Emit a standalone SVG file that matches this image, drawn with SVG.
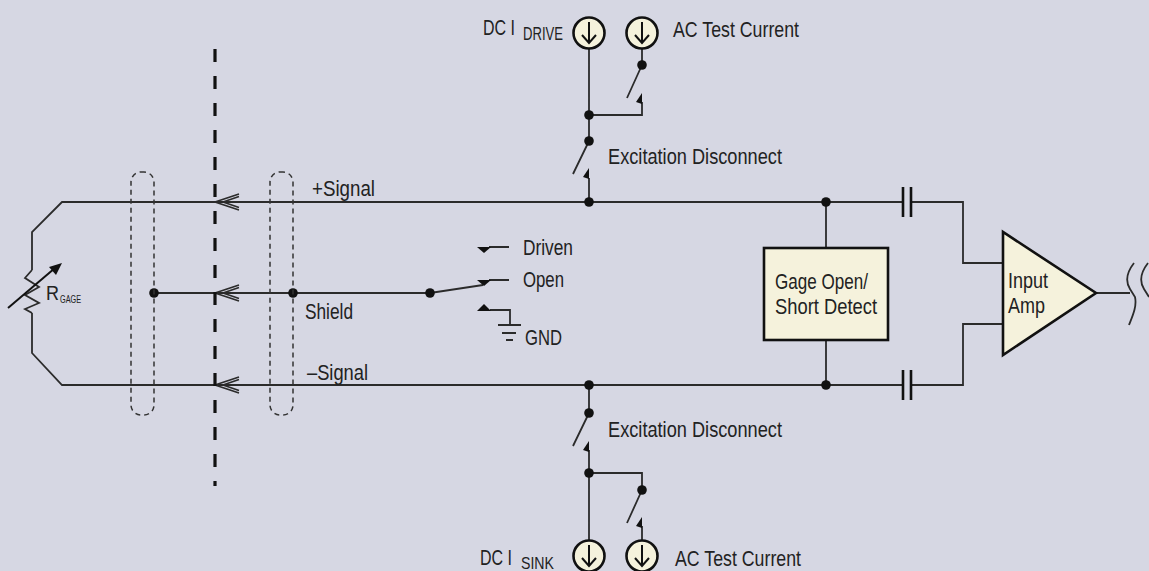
<svg xmlns="http://www.w3.org/2000/svg" width="1149" height="571" viewBox="0 0 1149 571">
<defs>
<style>
.w{fill:none;stroke:#2b2b2b;stroke-width:1.8}
.dot{fill:#111}
.tri{fill:#111}
.box{fill:#f5f2dc;stroke:#111;stroke-width:2.6}
.src{fill:#f5f2dc;stroke:#111;stroke-width:2.6}
.shield{fill:none;stroke:#333;stroke-width:1.5;stroke-dasharray:5 4}
.cut{fill:none;stroke:#111;stroke-width:3.2;stroke-dasharray:13 14}
.cap{fill:none;stroke:#111;stroke-width:2.6}
.t{font-family:"Liberation Sans Narrow","Liberation Sans",Arial,sans-serif;font-size:22px;fill:#222}
</style>
<g id="src-sym">
<circle cx="0" cy="0" r="15.5" class="src"/>
<path d="M0,-11 V9 M-7,2 L0,10 L7,2" fill="none" stroke="#111" stroke-width="2"/>
</g>
<path id="chev" d="M24,-8 L0,0 L24,8 M24,-5.5 L8,0 L24,5.5" fill="none" stroke="#2b2b2b" stroke-width="1.6"/>
</defs>
<rect width="1149" height="571" fill="#d6d7e3"/>

<g id="connectors">
<path class="w" d="M903,202 H62 L32,232 V270 M32,313 V353 L62,385 H903"/>
<path class="w" d="M154,293 H430 L483,285"/>
<path class="w" d="M589,49 V141 M573,174 L589,141 M589,178 V202 M589,115 H642 V102 M627,98 L642,65 M642,65 V49"/>
<path class="w" d="M589,385 V413 M573,446 L589,413 M589,450 V540 M589,473 H642 V490 M627,523 L642,490 M642,526 V540"/>
<path class="w" d="M826,202 V248 M826,340 V385"/>
<path class="w" d="M911,202 H963 V263 H1003 M911,385 H963 V324 H1003"/>
<path class="w" d="M1096,293 H1130"/>
<path class="w" d="M1134,263 C1127,272 1125,281 1130,289 L1135,297 C1137,306 1133,315 1129,325 M1148,263 C1141,272 1139,281 1144,289 L1149,297"/>
<path class="w" d="M489,247 H509 M489,280 H509 M490,310 H510 V325 M498,325 H521 M502,333 H516 M506,340 H513"/>
<polygon class="tri" points="477,247 491,247 484,253"/>
<polygon class="tri" points="477,280 491,280 484,286"/>
<polygon class="tri" points="477,311 491,311 484,304"/>
<polygon class="tri" points="589,168 589,179 583,177"/>
<polygon class="tri" points="642,93 642,104 636,102"/>
<polygon class="tri" points="589,441 589,452 583,450"/>
<polygon class="tri" points="642,517 642,528 636,526"/>
<use href="#chev" x="215" y="202"/>
<use href="#chev" x="215" y="293"/>
<use href="#chev" x="215" y="385"/>
</g>

<g id="dots">
<circle class="dot" cx="154" cy="293" r="4.8"/>
<circle class="dot" cx="293" cy="293" r="4.8"/>
<circle class="dot" cx="430" cy="293" r="4.8"/>
<circle class="dot" cx="589" cy="115" r="4.8"/>
<circle class="dot" cx="589" cy="141" r="4.8"/>
<circle class="dot" cx="589" cy="202" r="4.8"/>
<circle class="dot" cx="642" cy="65" r="4.8"/>
<circle class="dot" cx="589" cy="385" r="4.8"/>
<circle class="dot" cx="589" cy="413" r="4.8"/>
<circle class="dot" cx="589" cy="473" r="4.8"/>
<circle class="dot" cx="642" cy="490" r="4.8"/>
<circle class="dot" cx="826" cy="202" r="4.8"/>
<circle class="dot" cx="826" cy="385" r="4.8"/>
</g>

<g id="cable-cut">
<line class="cut" x1="215" y1="49" x2="215" y2="486"/>
</g>

<g id="shield-left">
<rect class="shield" x="131" y="172" width="23" height="243" rx="10" ry="10"/>
</g>
<g id="shield-right">
<rect class="shield" x="270" y="172" width="23" height="243" rx="10" ry="10"/>
</g>

<g id="r-gage">
<path class="w" d="M32,270 L25,278 L39,287 L25,295 L39,303 L25,309 L32,313"/>
<line x1="8" y1="308" x2="55" y2="268" stroke="#111" stroke-width="2"/>
<polygon points="62,263 49,267 56,275" fill="#111"/>
<text class="t" x="46" y="300" style="font-size:21px" textLength="13" lengthAdjust="spacingAndGlyphs">R</text>
<text class="t" x="60" y="303" style="font-size:10px" textLength="21" lengthAdjust="spacingAndGlyphs">GAGE</text>
</g>

<g id="dc-drive">
<use href="#src-sym" x="589" y="33"/>
<text class="t" x="483" y="35" textLength="32" lengthAdjust="spacingAndGlyphs">DC I</text>
<text class="t" x="523" y="40" style="font-size:17.5px" textLength="40" lengthAdjust="spacingAndGlyphs">DRIVE</text>
</g>
<g id="ac-top">
<use href="#src-sym" x="642" y="33"/>
<text class="t" x="673" y="37" textLength="126" lengthAdjust="spacingAndGlyphs">AC Test Current</text>
</g>
<g id="exc-top">
<text class="t" x="608" y="164" textLength="174" lengthAdjust="spacingAndGlyphs">Excitation Disconnect</text>
</g>
<g id="exc-bottom">
<text class="t" x="608" y="437" textLength="174" lengthAdjust="spacingAndGlyphs">Excitation Disconnect</text>
</g>
<g id="dc-sink">
<use href="#src-sym" x="589" y="556"/>
<text class="t" x="480" y="565" textLength="32" lengthAdjust="spacingAndGlyphs">DC I</text>
<text class="t" x="521" y="569" style="font-size:17px" textLength="33" lengthAdjust="spacingAndGlyphs">SINK</text>
</g>
<g id="ac-bottom">
<use href="#src-sym" x="642" y="556"/>
<text class="t" x="675" y="566" textLength="126" lengthAdjust="spacingAndGlyphs">AC Test Current</text>
</g>

<g id="labels">
<text class="t" x="312" y="196" textLength="63" lengthAdjust="spacingAndGlyphs">+Signal</text>
<text class="t" x="305" y="319" textLength="48" lengthAdjust="spacingAndGlyphs">Shield</text>
<text class="t" x="307" y="380" textLength="61" lengthAdjust="spacingAndGlyphs">–Signal</text>
<text class="t" x="523" y="255" textLength="50" lengthAdjust="spacingAndGlyphs">Driven</text>
<text class="t" x="523" y="287" textLength="41" lengthAdjust="spacingAndGlyphs">Open</text>
<text class="t" x="525" y="345" textLength="37" lengthAdjust="spacingAndGlyphs">GND</text>
</g>

<g id="detect">
<rect class="box" x="764" y="248" width="124" height="92"/>
<text class="t" x="775" y="289" textLength="93" lengthAdjust="spacingAndGlyphs">Gage Open/</text>
<text class="t" x="775" y="314" textLength="102" lengthAdjust="spacingAndGlyphs">Short Detect</text>
</g>

<g id="cap-top">
<path class="cap" d="M903,187 V217 M911,187 V217"/>
</g>
<g id="cap-bottom">
<path class="cap" d="M903,370 V400 M911,370 V400"/>
</g>

<g id="amp">
<polygon class="box" points="1003,232 1003,355 1096,293"/>
<text class="t" x="1008" y="288" textLength="40" lengthAdjust="spacingAndGlyphs">Input</text>
<text class="t" x="1008" y="313" textLength="37" lengthAdjust="spacingAndGlyphs">Amp</text>
</g>
</svg>
